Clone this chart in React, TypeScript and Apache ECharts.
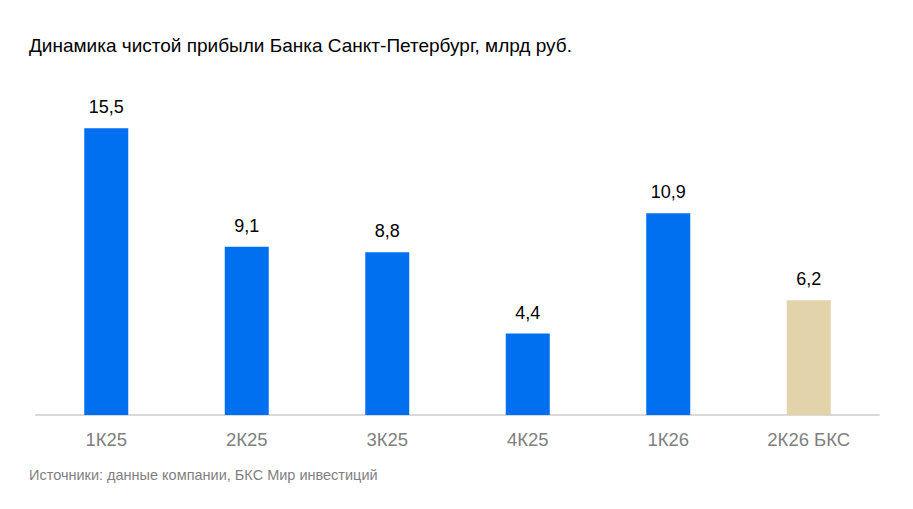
import React, { useEffect, useRef } from "react";
import * as echarts from "echarts";

const categories = ["1К25", "2К25", "3К25", "4К25", "1К26", "2К26 БКС"];
const values = [15.5, 9.1, 8.8, 4.4, 10.9, 6.2];
const forecastFlags = [false, false, false, false, false, true];
const titleText = "Динамика чистой прибыли Банка Санкт-Петербург, млрд руб.";
const sourceText = "Источники: данные компании, БКС Мир инвестиций";

export default function App() {
  const ref = useRef<HTMLDivElement>(null);
  useEffect(() => {
    document.body.style.margin = "0";
    const chart = echarts.init(ref.current!, null, { renderer: "svg" });
    const font = "Arial, 'Liberation Sans', sans-serif";
    chart.setOption({
      animation: false,
      backgroundColor: "#ffffff",
      textStyle: { fontFamily: font },
      title: [
        {
          text: titleText,
          left: 24,
          top: 31,
          textStyle: { fontFamily: font, fontSize: 19, fontWeight: "normal", color: "#000000" },
        },
        {
          text: sourceText,
          left: 24,
          top: 462,
          textStyle: { fontFamily: font, fontSize: 14.5, fontWeight: "normal", color: "#7f7f7f" },
        },
      ],
      grid: { left: 36, right: 34, top: 100.5, bottom: 94 },
      xAxis: {
        type: "category",
        data: categories,
        axisLine: { lineStyle: { color: "#d9d9d9", width: 2 } },
        axisTick: { show: false },
        axisLabel: { color: "#7f7f7f", fontSize: 18.5, fontFamily: font, margin: 15 },
      },
      yAxis: {
        type: "value",
        min: 0,
        max: 17,
        show: false,
        splitLine: { show: false },
      },
      series: [
        {
          type: "bar",
          barWidth: 44,
          data: values.map((v, i) => ({
            value: v,
            itemStyle: { color: forecastFlags[i] ? "#e3d3ab" : "#006ff0" },
          })),
          label: {
            show: true,
            position: "top",
            distance: 12,
            color: "#000000",
            fontSize: 18,
            fontFamily: font,
            formatter: (p: any) => String(p.value).replace(".", ","),
          },
        },
      ],
    });
    return () => chart.dispose();
  }, []);
  return <div ref={ref} style={{ width: 913, height: 509 }} />;
}
